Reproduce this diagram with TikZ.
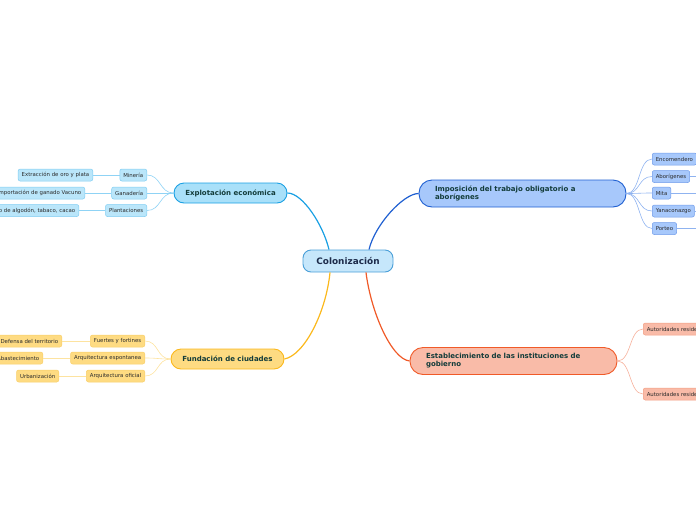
\documentclass[tikz,border=0pt]{standalone}
\usepackage{fontspec}
\setmainfont{DejaVu Sans}
\usetikzlibrary{calc}

\definecolor{rootfill}{HTML}{C6E7FB}
\definecolor{rootline}{HTML}{4A9FD8}
\definecolor{roottext}{HTML}{1C2B4A}
\definecolor{maintext}{HTML}{133C3A}
\definecolor{subtext}{HTML}{2B2B2B}
% one colour set per branch
\definecolor{cyfill}{HTML}{A9E0F9}
\definecolor{cyline}{HTML}{1AA0E3}
\definecolor{cysub}{HTML}{7FCDF2}
\definecolor{cytwig}{HTML}{8FD3F5}
\definecolor{blfill}{HTML}{A7C8FB}
\definecolor{blline}{HTML}{1F5FD1}
\definecolor{blsub}{HTML}{6F9BEA}
\definecolor{bltwig}{HTML}{8FB3F0}
\definecolor{orfill}{HTML}{F9BBA8}
\definecolor{orline}{HTML}{F05A28}
\definecolor{orsub}{HTML}{F29D82}
\definecolor{ortwig}{HTML}{F6B09B}
\definecolor{yefill}{HTML}{FEDB82}
\definecolor{yeline}{HTML}{FBB81C}
\definecolor{yesub}{HTML}{F8CF6A}
\definecolor{yetwig}{HTML}{FDE3A0}

\begin{document}
\begin{tikzpicture}[
  x=1pt, y=-1pt,
  root/.style = {draw=rootline, fill=rootfill, rounded corners=8pt, line width=0.9pt,
    minimum width=90pt, minimum height=22pt, inner sep=0pt, text=roottext,
    font=\bfseries\fontsize{8.9}{10}\selectfont},
  main/.style = {rounded corners=10pt, line width=0.9pt, minimum width=113pt,
    minimum height=20pt, inner sep=0pt, text=maintext,
    font=\bfseries\fontsize{7}{8}\selectfont},
  mainwide/.style = {main, text width=175pt, inner xsep=16pt, align=left,
    minimum height=27pt, rounded corners=13pt},
  sub/.style = {rounded corners=2pt, line width=0.5pt, minimum height=12pt,
    inner xsep=3.5pt, inner ysep=0pt, text=subtext, font=\fontsize{5.4}{6}\selectfont},
  link/.style = {line width=1.2pt},
  twig/.style = {line width=0.6pt},
]
\clip (0,0) rectangle (696,520);

% centre
\node[root] (colon) at (348,261) {Colonización};

% main branches
\node[main, draw=cyline, fill=cyfill] (expl) at (230.5,193) {Explotación económica};
\node[main, draw=yeline, fill=yefill] (fund) at (227.5,359) {Fundación de ciudades};
\node[mainwide, draw=blline, fill=blfill] (impo) at (522.5,193.5)
  {Imposición del trabajo obligatorio a\\aborígenes};
\node[mainwide, draw=orline, fill=orfill] (esta) at (513.5,361)
  {Establecimiento de las instituciones de\\gobierno};

\draw[link, cyline] (expl.east) .. controls +(15,0) and +(-6,-25) .. ($(colon.north)+(-19,0)$);
\draw[link, blline] (impo.west) .. controls +(-15,0) and +(6,-25) .. ($(colon.north)+(21,0)$);
\draw[link, yeline] (fund.east) .. controls +(20,-4) and +(-4,40) .. ($(colon.south)+(-18,0)$);
\draw[link, orline] (esta.west) .. controls +(-18,-2) and +(5,40) .. ($(colon.south)+(18,0)$);

% Explotacion economica
\begin{scope}[every node/.append style={sub, draw=cysub, fill=cyfill!80!white}]
  \node[anchor=east] (mine) at (147,175) {Minería};
  \node[anchor=east] (gana) at (147,193) {Ganadería};
  \node[anchor=east] (plan) at (147,210.5) {Plantaciones};
  \node[anchor=east] (oro) at (93,175) {Extracción de oro y plata};
  \node[anchor=east] (vacu) at (85,193) {Importación de ganado Vacuno};
  \node[anchor=east] (cult) at (79,210.5) {Cultivo de algodón, tabaco, cacao};
\end{scope}
\foreach \s in {mine,gana,plan}
  \draw[twig, cytwig] (expl.west) .. controls +(-14,0) and +(14,0) .. (\s.east);
\draw[twig, cytwig] (mine) -- (oro);
\draw[twig, cytwig] (gana) -- (vacu);
\draw[twig, cytwig] (plan) -- (cult);

% Fundacion de ciudades
\begin{scope}[every node/.append style={sub, draw=yesub, fill=yefill}]
  \node[anchor=east] (fuer) at (145,341) {Fuertes y fortines};
  \node[anchor=east] (espo) at (145,358) {Arquitectura espontanea};
  \node[anchor=east] (ofic) at (145,376) {Arquitectura oficial};
  \node[anchor=east] (defe) at (62,341) {Defensa del territorio};
  \node[anchor=east] (abas) at (43,358) {Abastecimiento};
  \node[anchor=east] (urba) at (59,376) {Urbanización};
\end{scope}
\foreach \s in {fuer,espo,ofic}
  \draw[twig, yetwig] (fund.west) .. controls +(-14,0) and +(14,0) .. (\s.east);
\draw[twig, yetwig] (fuer) -- (defe);
\draw[twig, yetwig] (espo) -- (abas);
\draw[twig, yetwig] (ofic) -- (urba);

% Imposicion del trabajo
\begin{scope}[every node/.append style={sub, draw=blsub, fill=blfill}]
  \node[anchor=west] (enco) at (652,159) {Encomendero};
  \node[anchor=west] (abor) at (652,176.5) {Aborígenes};
  \node[anchor=west] (mita) at (652,193) {Mita};
  \node[anchor=west] (yana) at (652,211) {Yanaconazgo};
  \node[anchor=west] (port) at (652,228.5) {Porteo};
\end{scope}
\foreach \s in {enco,abor,mita,yana,port} {
  \draw[twig, bltwig] (impo.east) .. controls +(14,0) and +(-14,0) .. (\s.west);
  \coordinate (\s-out) at (\s.east -| 700,0);
  \draw[twig, bltwig] (\s.east) -- (\s-out);
}

% Establecimiento de instituciones
\begin{scope}[every node/.append style={sub, draw=orsub, fill=orfill}]
  \node[anchor=west] (auta) at (643,329) {Autoridades residentes};
  \node[anchor=west] (autb) at (643,394) {Autoridades residentes};
\end{scope}
\foreach \s in {auta,autb}
  \draw[twig, ortwig] (esta.east) .. controls +(14,0) and +(-14,0) .. (\s.west);
\end{tikzpicture}
\end{document}
